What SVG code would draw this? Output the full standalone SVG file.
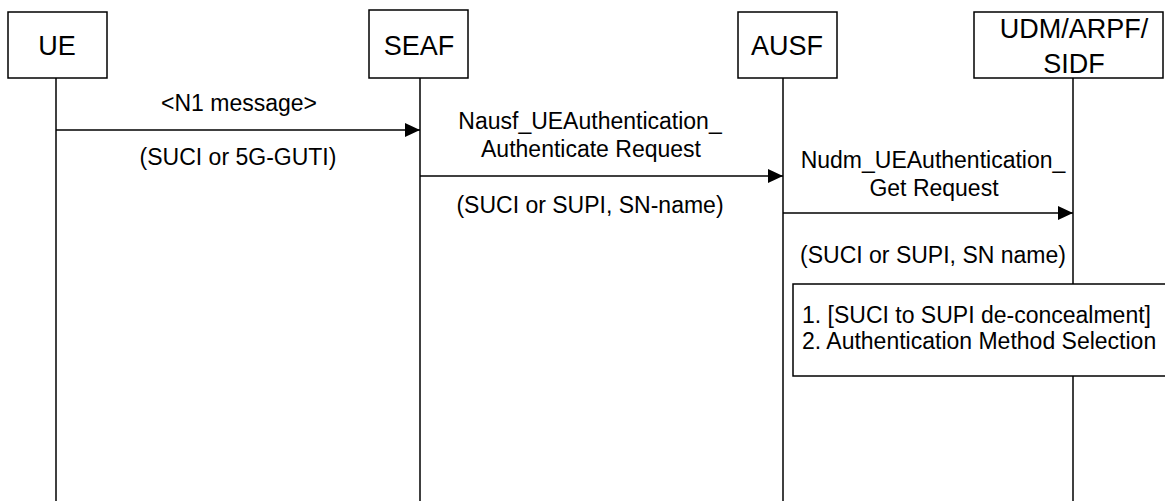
<svg xmlns="http://www.w3.org/2000/svg" width="1165" height="501" viewBox="0 0 1165 501">
<defs>
<style>
.box{fill:#fff;stroke:#000;stroke-width:1.5}
.life{stroke:#000;stroke-width:1.5;fill:none}
.msg{stroke:#000;stroke-width:1.5;fill:none;marker-end:url(#ah)}
.nt{font-family:"Liberation Sans",Arial,sans-serif;font-size:27px;fill:#000;text-anchor:middle}
.lt{font-family:"Liberation Sans",Arial,sans-serif;font-size:23px;fill:#000;text-anchor:middle}
.bt{font-family:"Liberation Sans",Arial,sans-serif;font-size:23px;fill:#000}
</style>
<marker id="ah" markerWidth="15" markerHeight="14" refX="15" refY="7" orient="auto" markerUnits="userSpaceOnUse">
<path d="M0,0 L15,7 L0,14 Z" fill="#000"/>
</marker>
</defs>
<rect width="1165" height="501" fill="#fff"/>
<g id="lifelines">
<line class="life" x1="56" y1="78" x2="56" y2="501"/>
<line class="life" x1="420" y1="78" x2="420" y2="501"/>
<line class="life" x1="783" y1="78" x2="783" y2="501"/>
<line class="life" x1="1073" y1="78" x2="1073" y2="501"/>
</g>
<g id="node-ue">
<rect class="box" x="8" y="12" width="99" height="66"/>
<text class="nt" x="57" y="55">UE</text>
</g>
<g id="node-seaf">
<rect class="box" x="369" y="10" width="99" height="68"/>
<text class="nt" x="419" y="55">SEAF</text>
</g>
<g id="node-ausf">
<rect class="box" x="738" y="12" width="99" height="66"/>
<text class="nt" x="787" y="55">AUSF</text>
</g>
<g id="node-udm">
<rect class="box" x="974" y="12" width="189" height="66"/>
<text class="nt" x="1074" y="38">UDM/ARPF/</text>
<text class="nt" x="1074" y="73">SIDF</text>
</g>
<g id="connectors">
<line class="msg" x1="56" y1="130" x2="420" y2="130"/>
<line class="msg" x1="420" y1="176" x2="783" y2="176"/>
<line class="msg" x1="783" y1="213" x2="1073" y2="213"/>
</g>
<g id="labels">
<text class="lt" x="239" y="111">&lt;N1 message&gt;</text>
<text class="lt" x="238" y="165">(SUCI or 5G-GUTI)</text>
<text class="lt" x="590" y="129">Nausf_UEAuthentication_</text>
<text class="lt" x="591" y="157">Authenticate Request</text>
<text class="lt" x="590" y="213">(SUCI or SUPI, SN-name)</text>
<text class="lt" x="933" y="168">Nudm_UEAuthentication_</text>
<text class="lt" x="934" y="196">Get Request</text>
<text class="lt" x="933" y="263">(SUCI or SUPI, SN name)</text>
</g>
<g id="node-process">
<rect class="box" x="793" y="284" width="380" height="92"/>
<text class="bt" x="802" y="323">1. [SUCI to SUPI de-concealment]</text>
<text class="bt" x="802" y="349">2. Authentication Method Selection</text>
</g>
</svg>
